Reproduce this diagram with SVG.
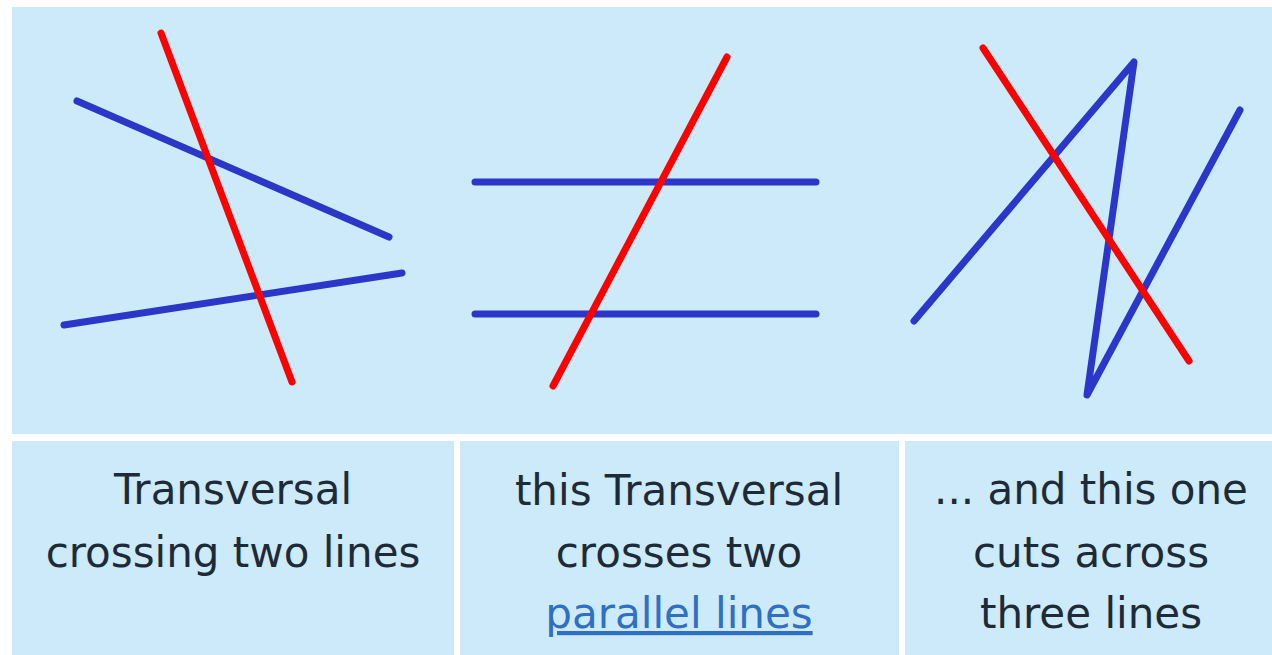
<svg xmlns="http://www.w3.org/2000/svg" width="1272" height="655" viewBox="0 0 1272 655">
<style>
.panel{fill:#cdeafb}
.blue{stroke:#2c36c9;stroke-width:7;stroke-linecap:round;stroke-linejoin:round;fill:none}
.red{stroke:#ff0000;stroke-width:7;stroke-linecap:round;fill:none}
.cap{font-family:"DejaVu Sans","Liberation Sans",sans-serif;font-size:42px;fill:#1d2b38;text-anchor:middle}
.link{fill:#2f6fc4;text-decoration:underline}
</style>
<rect x="0" y="0" width="1272" height="655" fill="#ffffff"/>
<g id="top-panel">
<rect class="panel" x="12" y="7" width="1260" height="427"/>
</g>
<g id="cell-1">
<rect class="panel" x="12" y="441" width="442" height="214"/>
<text class="cap" x="233" y="504">Transversal</text>
<text class="cap" x="233" y="567">crossing two lines</text>
</g>
<g id="cell-2">
<rect class="panel" x="460" y="441" width="439" height="214"/>
<text class="cap" x="679" y="505">this Transversal</text>
<text class="cap" x="679" y="567">crosses two</text>
<text class="cap link" x="679" y="628">parallel lines</text>
</g>
<g id="cell-3">
<rect class="panel" x="905" y="441" width="367" height="214"/>
<text class="cap" x="1091" y="504">... and this one</text>
<text class="cap" x="1091" y="567">cuts across</text>
<text class="cap" x="1091" y="628">three lines</text>
</g>
<g id="lines">
<g id="figure-1">
<line class="blue" x1="77" y1="101" x2="389" y2="237"/>
<line class="blue" x1="64" y1="325" x2="402" y2="273"/>
<line class="red" x1="161" y1="33" x2="292" y2="382"/>
</g>
<g id="figure-2">
<line class="blue" x1="475" y1="182" x2="816" y2="182"/>
<line class="blue" x1="475" y1="314" x2="816" y2="314"/>
<line class="red" x1="553" y1="386" x2="727" y2="57"/>
</g>
<g id="figure-3">
<polyline class="blue" points="914,321 1134,62 1087,395 1240,110"/>
<line class="red" x1="983" y1="48" x2="1189" y2="361"/>
</g>
</g>
</svg>
